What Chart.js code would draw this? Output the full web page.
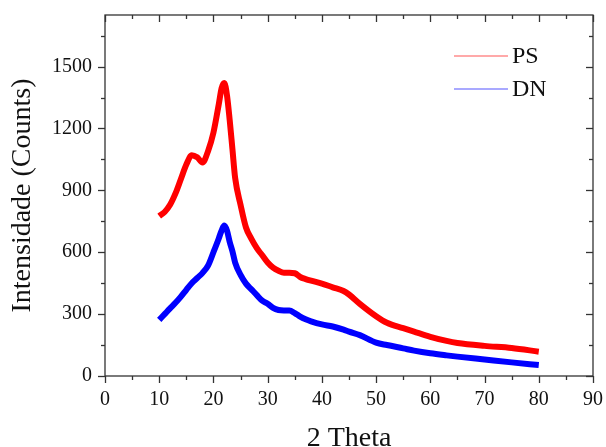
<!DOCTYPE html>
<html>
<head>
<meta charset="utf-8">
<script src="https://cdn.jsdelivr.net/npm/chart.js@4/dist/chart.umd.min.js"></script>
<style>
  html, body { margin: 0; padding: 0; background: #fff; }
  #wrap { width: 606px; height: 447px; }
</style>
</head>
<body>
<div id="wrap"><canvas id="grafik"></canvas></div>
<script>
// ===== DATA =====
const twoTheta = [10, 11, 12, 13, 14, 15, 16, 17, 18, 19, 20, 21, 21.5, 22, 22.5, 23, 23.5, 24, 25, 26, 27, 28, 29, 30,
  31, 32, 33, 34, 35, 36, 37, 38, 40, 42, 44, 45, 47, 50, 52, 55, 57, 60, 63, 65, 70, 75, 80];
const psCounts = [775, 795, 830, 885, 955, 1025, 1070, 1060, 1035, 1090, 1180, 1320, 1395, 1420, 1360, 1240, 1100, 960, 830, 720, 665, 620, 585, 550,
  525, 510, 500, 500, 498, 480, 470, 462, 448, 430, 412, 395, 350, 290, 258, 232, 215, 190, 170, 160, 146, 136, 118];
const dnCounts = [272, 300, 328, 355, 385, 418, 450, 475, 500, 535, 600, 668, 705, 730, 705, 650, 605, 550, 490, 448, 420, 392, 365, 350,
  330, 320, 318, 318, 305, 288, 275, 265, 250, 240, 225, 215, 198, 162, 150, 134, 123, 110, 100, 94, 80, 66, 53];
const seriesNames = ["PS", "DN"];

const xTicks = [0, 10, 20, 30, 40, 50, 60, 70, 80, 90];
const xMinor = [5, 15, 25, 35, 45, 55, 65, 75, 85];
const yTicks = [0, 300, 600, 900, 1200, 1500];
const yMinor = [150, 450, 750, 1050, 1350, 1650];

const serif = "'Liberation Serif', 'Times New Roman', serif";
const frameColor = "#333";

// ===== FRAME, TICKS, LEGEND =====
const moldura = {
  id: "moldura",
  afterDatasetsDraw(chart) {
    const { ctx, chartArea: a, scales: { x, y } } = chart;
    ctx.save();
    ctx.strokeStyle = frameColor;
    ctx.lineWidth = 1.3;
    ctx.strokeRect(a.left, a.top, a.right - a.left, a.bottom - a.top);

    const tick = (x1, y1, x2, y2) => {
      ctx.beginPath(); ctx.moveTo(x1, y1); ctx.lineTo(x2, y2); ctx.stroke();
    };
    xTicks.forEach(v => {
      const px = Math.round(x.getPixelForValue(v)) + 0.5;
      tick(px, a.bottom, px, a.bottom + 7);
      tick(px, a.top, px, a.top + 7);
    });
    xMinor.forEach(v => {
      const px = Math.round(x.getPixelForValue(v)) + 0.5;
      tick(px, a.bottom, px, a.bottom + 4);
      tick(px, a.top, px, a.top + 4);
    });
    yTicks.forEach(v => {
      const py = Math.round(y.getPixelForValue(v)) + 0.5;
      tick(a.left - 7, py, a.left, py);
      tick(a.right - 7, py, a.right, py);
    });
    yMinor.forEach(v => {
      const py = Math.round(y.getPixelForValue(v)) + 0.5;
      tick(a.left - 4, py, a.left, py);
      tick(a.right - 4, py, a.right, py);
    });

    // legend
    const lx = a.right - 139, ly = a.top + 41, gap = 33;
    const cores = ["rgba(255,0,0,0.45)", "rgba(0,0,255,0.45)"];
    ctx.font = "24px " + serif;
    ctx.textBaseline = "middle";
    ctx.fillStyle = "#111";
    seriesNames.forEach((n, i) => {
      ctx.strokeStyle = cores[i];
      ctx.lineWidth = 1.5;
      tick(lx, ly + i * gap, lx + 54, ly + i * gap);
      ctx.fillText(n, lx + 58, ly + i * gap + 1);
    });
    ctx.restore();
  }
};

const grafikCtx = document.getElementById("grafik");
new Chart(grafikCtx, {
  type: "line",
  data: {
    datasets: [
      {
        label: seriesNames[0],
        data: twoTheta.map((t, i) => ({ x: t, y: psCounts[i] })),
        borderColor: "#ff0000",
        borderWidth: 6,
        pointRadius: 0,
        cubicInterpolationMode: "monotone"
      },
      {
        label: seriesNames[1],
        data: twoTheta.map((t, i) => ({ x: t, y: dnCounts[i] })),
        borderColor: "#0000ff",
        borderWidth: 6,
        pointRadius: 0,
        cubicInterpolationMode: "monotone"
      }
    ]
  },
  options: {
    responsive: true,
    maintainAspectRatio: false,
    animation: false,
    layout: { padding: { top: 15, right: 13, left: 0, bottom: 0 } },
    plugins: { legend: { display: false }, tooltip: { enabled: false } },
    scales: {
      x: {
        type: "linear",
        min: 0, max: 90,
        afterBuildTicks: s => { s.ticks = xTicks.map(v => ({ value: v })); },
        afterFit: s => { s.height = 71; s.paddingLeft = 0; s.paddingRight = 0; },
        grid: { display: false, drawTicks: false },
        border: { display: false },
        ticks: { padding: 12, color: "#111", font: { family: serif, size: 20 }, maxRotation: 0, callback: v => String(v) },
        title: {
          display: true, text: "2 Theta", color: "#111",
          font: { family: serif, size: 28, lineHeight: 0.6 },
          padding: { top: 0, bottom: 0 }
        }
      },
      y: {
        min: 0, max: 1750,
        afterBuildTicks: s => { s.ticks = yTicks.map(v => ({ value: v })); },
        afterFit: s => { s.width = 105; s.paddingTop = 0; s.paddingBottom = 0; },
        grid: { display: false, drawTicks: false },
        border: { display: false },
        ticks: { padding: 13, color: "#111", font: { family: serif, size: 20 }, callback: v => String(v) },
        title: {
          display: true, text: "Intensidade (Counts)", color: "#111",
          font: { family: serif, size: 28, lineHeight: 1.2 },
          padding: { top: 6, bottom: 0 }
        }
      }
    }
  },
  plugins: [moldura]
});
</script>
</body>
</html>
